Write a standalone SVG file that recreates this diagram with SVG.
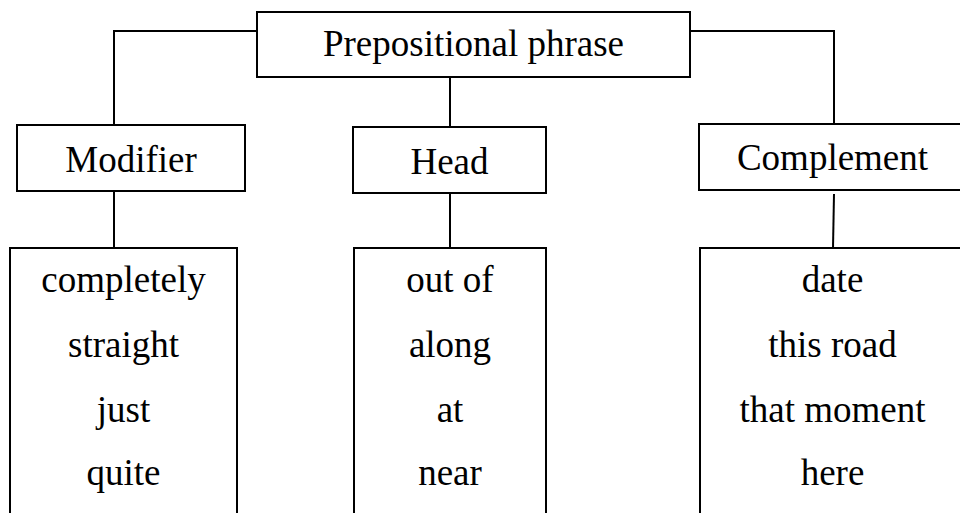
<svg xmlns="http://www.w3.org/2000/svg" width="960" height="513" viewBox="0 0 960 513">
<style>
.box{fill:#fff;stroke:#000;stroke-width:2}
.ln{fill:none;stroke:#000;stroke-width:2}
text{font-size:37px;fill:#000;text-anchor:middle}
</style>
<rect width="960" height="513" fill="#fff"/>
<g id="connectors">
<polyline class="ln" points="257,31 114,31 114,125"/>
<line class="ln" x1="450" y1="72" x2="450" y2="127"/>
<polyline class="ln" points="690,31 834,31 834,124"/>
<line class="ln" x1="114" y1="191" x2="114" y2="248"/>
<line class="ln" x1="450" y1="192" x2="450" y2="248"/>
<line class="ln" x1="834" y1="194" x2="833" y2="248"/>
</g>
<g font-family="'Liberation Serif', 'Times New Roman', 'DejaVu Serif', serif">
<g id="pp">
<rect class="box" x="257" y="12" width="433" height="65"/>
<text x="473.5" y="55.5">Prepositional phrase</text>
</g>
<g id="modifier">
<rect class="box" x="17" y="125" width="228" height="66"/>
<text x="131" y="172">Modifier</text>
</g>
<g id="head">
<rect class="box" x="353" y="127" width="193" height="66"/>
<text x="449.5" y="174">Head</text>
</g>
<g id="complement">
<rect class="box" x="699" y="124" width="300" height="66"/>
<text x="832.5" y="170">Complement</text>
</g>
<g id="modifier-list">
<rect class="box" x="10" y="248" width="227" height="300"/>
<text x="123.5" y="292">completely</text>
<text x="123.5" y="357">straight</text>
<text x="123.5" y="422">just</text>
<text x="123.5" y="485">quite</text>
</g>
<g id="head-list">
<rect class="box" x="354" y="248" width="192" height="300"/>
<text x="450" y="292">out of</text>
<text x="450" y="357">along</text>
<text x="450" y="422">at</text>
<text x="450" y="485">near</text>
</g>
<g id="complement-list">
<rect class="box" x="700" y="248" width="300" height="300"/>
<text x="832.5" y="292">date</text>
<text x="832.5" y="357">this road</text>
<text x="832.5" y="422">that moment</text>
<text x="832.5" y="485">here</text>
</g>
</g>
</svg>
